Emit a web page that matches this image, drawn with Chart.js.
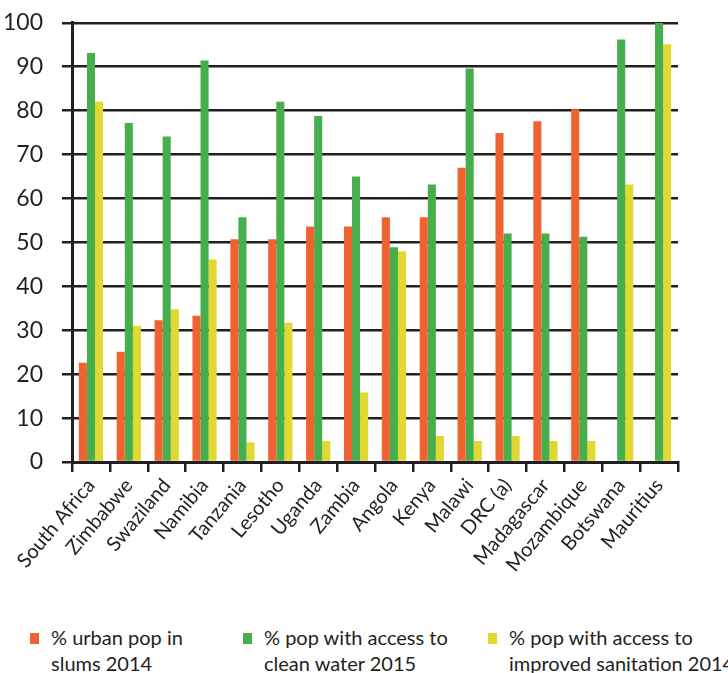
<!DOCTYPE html>
<html>
<head>
<meta charset="utf-8">
<script src="https://cdn.jsdelivr.net/npm/chart.js@4.4.0/dist/chart.umd.min.js"></script>
<style>
  body { margin: 0; background: #fff; }
  #wrap { position: relative; width: 728px; height: 673px; overflow: hidden; }
  #grafico { position: absolute; left: 0; top: -10px; }
  .leg { position: absolute; top: 624px; font-family: Lato, "Liberation Sans", sans-serif; font-size: 20px; line-height: 26px; color: #231f20; white-space: nowrap; }
  .leg i { position: absolute; left: 0; top: 9px; width: 9px; height: 11px; }
  .leg span { display: block; padding-left: 21px; }
</style>
</head>
<body>
<div id="wrap">
  <canvas id="grafico" width="728" height="610"></canvas>
  <div id="legenda"></div>
</div>
<script>
// dados
const paises = ['South Africa', 'Zimbabwe', 'Swaziland', 'Namibia', 'Tanzania', 'Lesotho', 'Uganda', 'Zambia',
  'Angola', 'Kenya', 'Malawi', 'DRC (a)', 'Madagascar', 'Mozambique', 'Botswana', 'Mauritius'];
const favelas2014 = [22.6, 25.1, 32.3, 33.3, 50.7, 50.7, 53.6, 53.6, 55.7, 55.7, 67.0, 74.9, 77.6, 80.3, null, null];
const agua2015 = [93.1, 77.2, 74.1, 91.4, 55.7, 82.0, 78.8, 65.0, 48.9, 63.2, 89.6, 52.0, 52.0, 51.3, 96.2, 100];
const saneamento2014 = [82.0, 31.0, 34.8, 46.1, 4.5, 31.7, 4.8, 15.8, 48.0, 5.9, 4.8, 5.9, 4.8, 4.8, 63.2, 95.1];
const legendas = [['% urban pop in', 'slums 2014'], ['% pop with access to', 'clean water 2015'], ['% pop with access to', 'improved sanitation 2014']];
const ticksY = [0, 10, 20, 30, 40, 50, 60, 70, 80, 90, 100];

const cores = ['#ef6331', '#47ae4d', '#e2d832'];
const fonte = 'Lato, "Liberation Sans", sans-serif';
const escuro = '#231f20';

const grafico = document.getElementById('grafico');

new Chart(grafico, {
  type: 'bar',
  data: {
    labels: paises,
    datasets: [
      { label: legendas[0].join(' '), data: favelas2014, backgroundColor: cores[0] },
      { label: legendas[1].join(' '), data: agua2015, backgroundColor: cores[1] },
      { label: legendas[2].join(' '), data: saneamento2014, backgroundColor: cores[2] }
    ]
  },
  options: {
    responsive: false,
    animation: false,
    categoryPercentage: 0.64,
    barPercentage: 1,
    layout: { padding: { left: 0, right: 50, top: 0, bottom: 0 } },
    plugins: { legend: { display: false }, tooltip: { enabled: false } },
    scales: {
      x: {
        offset: true,
        grid: { offset: true, drawOnChartArea: false, tickLength: 10, color: escuro, lineWidth: 2.5 },
        border: { color: escuro, width: 3 },
        ticks: { color: escuro, font: { family: fonte, size: 20 }, minRotation: 50, maxRotation: 50, padding: 2 },
        afterFit: function (scale) { scale.height = 138; }
      },
      y: {
        min: 0,
        max: 100,
        afterBuildTicks: function (scale) { scale.ticks = ticksY.map(v => ({ value: v })); },
        grid: { tickLength: 10, color: escuro, lineWidth: 2.5 },
        border: { color: escuro, width: 3 },
        ticks: { color: escuro, font: { family: fonte, size: 23 }, padding: 19 },
        afterFit: function (scale) { scale.width = 72; }
      }
    }
  }
});

// legenda em html (texto em duas linhas)
const posLegenda = [30, 243, 488];
var html = '';
for (var i = 0; i < legendas.length; i++) {
  html += `<div class="leg" style="left:${posLegenda[i]}px"><i style="background:${cores[i]}"></i>` +
    `<span>${legendas[i][0]}</span><span>${legendas[i][1]}</span></div>`;
}
document.getElementById('legenda').innerHTML = html;
</script>
</body>
</html>
